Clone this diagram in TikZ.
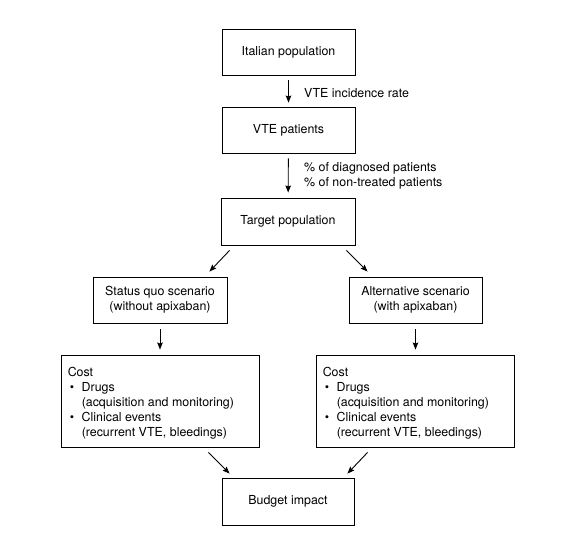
\documentclass[tikz,border=0pt]{standalone}
\usepackage{fontspec}
\setmainfont{TeX Gyre Heros}
\usetikzlibrary{arrows.meta,calc}
\newcommand\diafont{\fontsize{12.4pt}{15pt}\selectfont}
\begin{document}
\begin{tikzpicture}[x=1pt,y=-1pt,
  box/.style={draw,line width=0.9pt,inner sep=0pt,align=center,font=\diafont},
  costtext/.style={anchor=north west,inner sep=0pt,align=left,font=\diafont},
  lbl/.style={anchor=west,inner sep=0pt,align=left,font=\diafont},
  arr/.style={-{Stealth[length=7pt,width=5.5pt,inset=1pt]},line width=0.9pt}]
\fill[white] (0,0) rectangle (576,555);
\useasboundingbox (0,0) rectangle (576,555);

\node[box,minimum width=133pt,minimum height=46pt] (ital) at (288.5,52) {Italian population};
\node[box,minimum width=133pt,minimum height=46pt] (vte) at (288.5,130) {VTE patients};
\node[box,minimum width=134pt,minimum height=47pt] (target) at (288,221.5) {Target population};
\node[box,minimum width=134pt,minimum height=46pt] (status) at (160,300) {Status quo scenario\\(without apixaban)};
\node[box,minimum width=133pt,minimum height=46pt] (alt) at (415.5,300) {Alternative scenario\\(with apixaban)};
\node[box,minimum width=198pt,minimum height=92pt] (costL) at (160,401) {};
\node[box,minimum width=198pt,minimum height=92pt] (costR) at (415,401) {};
\node[box,minimum width=132pt,minimum height=47pt] (budget) at (288,501.5) {Budget impact};

\node[costtext] (costLt) at ($(costL.north west)+(7,12.5)$) {Cost\\
\hspace*{2pt}\makebox[12pt][l]{\textbullet}Drugs\\
\hspace*{14pt}(acquisition and monitoring)\\
\hspace*{2pt}\makebox[12pt][l]{\textbullet}Clinical events\\
\hspace*{14pt}(recurrent VTE, bleedings)};
\node[costtext] (costRt) at ($(costR.north west)+(7,12.5)$) {Cost\\
\hspace*{2pt}\makebox[12pt][l]{\textbullet}Drugs\\
\hspace*{14pt}(acquisition and monitoring)\\
\hspace*{2pt}\makebox[12pt][l]{\textbullet}Clinical events\\
\hspace*{14pt}(recurrent VTE, bleedings)};

\node[lbl] (l1) at (304,93) {VTE incidence rate};
\node[lbl] (l2) at (304,175.5) {\% of diagnosed patients\\\% of non-treated patients};

\draw[arr,shorten <=5pt,shorten >=4pt] (ital) -- (vte);
\draw[arr,shorten <=5pt,shorten >=5pt] (vte) -- (target);
\draw[arr,shorten <=6pt,shorten >=5pt] (status) -- (costL);
\draw[arr,shorten <=6pt,shorten >=5pt] (alt) -- (alt.south |- costR.north);

\coordinate (tl) at ($(target.south west)+(9,5)$);
\coordinate (sl) at ($(status.north east)+(-18,-5)$);
\coordinate (tr) at ($(target.south east)+(-9,5)$);
\coordinate (ar) at ($(alt.north west)+(19,-5)$);
\coordinate (cl) at ($(costL.south east)+(-51,5)$);
\coordinate (bl) at ($(budget.north west)+(8,-4)$);
\coordinate (cr) at ($(costR.south west)+(52,5)$);
\coordinate (br) at ($(budget.north east)+(-7,-4)$);
\draw[arr] (tl) -- (sl);
\draw[arr] (tr) -- (ar);
\draw[arr] (cl) -- (bl);
\draw[arr] (cr) -- (br);
\end{tikzpicture}
\end{document}
